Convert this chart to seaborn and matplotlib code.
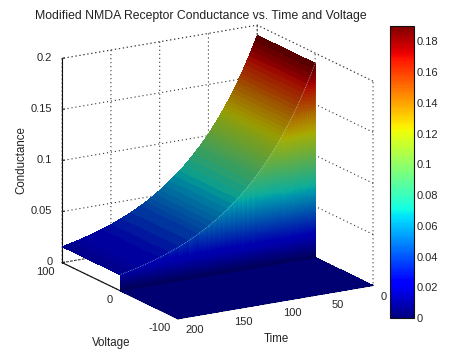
import numpy as np
import matplotlib
matplotlib.use('Agg')
import matplotlib.pyplot as plt
from matplotlib.colors import ListedColormap
import seaborn as sns

# values (conductance along the ridge, denser where it is steep)
time_vals = [0, 2, 4, 6, 8, 10, 12, 14, 16, 18, 20, 22, 24, 26, 28, 30, 32, 34, 36, 38, 40,
             42, 44, 46, 48, 50, 52, 54, 56, 58, 60, 65, 70, 75, 80, 85, 90, 95, 100,
             105, 110, 115, 120, 130, 140, 150, 160, 170, 180, 190, 200]
conductance = [0.1900, 0.1853, 0.1807, 0.1763, 0.1719, 0.1677, 0.1635, 0.1595, 0.1556, 0.1517, 0.1480,
               0.1443, 0.1408, 0.1373, 0.1339, 0.1306, 0.1274, 0.1242, 0.1211, 0.1181, 0.1152,
               0.1124, 0.1096, 0.1069, 0.1043, 0.1017, 0.0992, 0.0967, 0.0944, 0.0920, 0.0898,
               0.0844, 0.0792, 0.0744, 0.0699, 0.0657, 0.0617, 0.0580, 0.0544,
               0.0511, 0.0480, 0.0451, 0.0424, 0.0374, 0.0330, 0.0291, 0.0257, 0.0227, 0.0200, 0.0177, 0.0156]
voltage_off = [-100, 0]
voltage_on = [0, 100]
voltage_ticks = [-100, 0, 100]
voltage_labels = ['-100', '0', '100']
time_ticks = [0, 50, 100, 150, 200]
time_labels = ['0', '50', '100', '150', '200']
cond_ticks = [0, 0.05, 0.1, 0.15, 0.2]
cond_labels = ['0', '0.05', '0.1', '0.15', '0.2']
cbar_ticks = [0, 0.02, 0.04, 0.06, 0.08, 0.1, 0.12, 0.14, 0.16, 0.18]
cbar_labels = ['0', '0.02', '0.04', '0.06', '0.08', '0.1', '0.12', '0.14', '0.16', '0.18']

sns.set_style('white')
plt.rcParams['font.family'] = ['Liberation Sans', 'DejaVu Sans']
plt.rcParams['font.size'] = 8
plt.rcParams['text.color'] = '#222222'

W, H = 477, 358
fig = plt.figure(figsize=(W / 100, H / 100), dpi=100)
size = 340
cx, cy = 213, 176.5
ax = fig.add_axes([(cx - size / 2) / W, 1 - (cy + size / 2) / H, size / W, size / H],
                  projection='3d', proj_type='ortho', computed_zorder=False)
ax.patch.set_alpha(0)
ax.view_init(elev=16.7, azim=149.3)
ax.set_box_aspect((1, 1, 0.94), zoom=1.10)

jet = matplotlib.colormaps['jet']


def dimmed(factor):
    # the lit surface is darker than the colorbar
    rgb = jet(np.linspace(0, 1, 256))[:, :3] * factor
    return ListedColormap(rgb)


t = np.array(time_vals, dtype=float)
g = np.array(conductance)
vmax = 0.19
opts = dict(vmin=0, vmax=vmax, rstride=1, cstride=1, linewidth=0, antialiased=False, shade=False)

# floor for negative voltage
Vf, Tf = np.meshgrid(voltage_off, t)
ax.plot_surface(Vf, Tf, np.zeros_like(Vf, dtype=float), zorder=2, cmap=dimmed(0.9), **opts)

# top of the surface
Vt, Tt = np.meshgrid(voltage_on, t)
ax.plot_surface(Vt, Tt, np.column_stack([g, g]), zorder=3, cmap=dimmed(0.62), **opts)

# step at voltage 0, split in height so the colours follow z
frac = np.linspace(0, 1, 61)
Zw = np.outer(g, frac)
Tw = np.tile(t[:, None], (1, frac.size))
ax.plot_surface(np.zeros_like(Zw), Tw, Zw, zorder=4, cmap=dimmed(0.68), **opts)
ax.plot(np.zeros_like(t), t, g, color='#9fe0e0', lw=0.5, ls=':', zorder=5)

ax.set_xlim(-100, 100, view_margin=0)
ax.set_ylim(0, 200, view_margin=0)
ax.set_zlim(0, 0.2, view_margin=0)
ax.set_xticks(voltage_ticks)
ax.set_xticklabels(voltage_labels, ha='right', va='center')
ax.set_yticks(time_ticks)
ax.set_yticklabels(time_labels, ha='left', va='bottom')
ax.set_zticks(cond_ticks)
ax.set_zticklabels(cond_labels, ha='right', va='center')
ax.zaxis.set_ticks_position('upper')

dots = (0, (1, 2.6))
for axis in (ax.xaxis, ax.yaxis, ax.zaxis):
    axis.pane.set_facecolor((1, 1, 1, 0))
    axis.pane.set_edgecolor('#333333')
    axis.pane.set_linestyle(dots)
    axis.pane.set_linewidth(0.8)
    axis.line.set_color('#111111')
    axis.line.set_linewidth(0.8)
    axis._axinfo['grid'].update(color='#333333', linestyle=dots, linewidth=0.8)
    axis._axinfo['tick'].update(inward_factor=0.0, outward_factor=0.15)
ax.tick_params(axis='x', labelsize=8, pad=-3)
ax.tick_params(axis='y', labelsize=8, pad=0)
ax.tick_params(axis='z', labelsize=8, pad=-4)

fig.text(201 / W, 1 - 16 / H, 'Modified NMDA Receptor Conductance vs. Time and Voltage', ha='center', va='center', fontsize=8.8)
fig.text(111 / W, 1 - 343 / H, 'Voltage', ha='center', va='center', fontsize=8.3)
fig.text(276 / W, 1 - 339 / H, 'Time', ha='center', va='center', fontsize=8.3)
fig.text(21 / W, 1 - 160 / H, 'Conductance', ha='center', va='center', rotation=90, fontsize=8.3)

cax = fig.add_axes([390 / W, 1 - 318 / H, 23.5 / W, 292 / H])
sm = plt.cm.ScalarMappable(norm=plt.Normalize(0, vmax), cmap=jet)
cb = fig.colorbar(sm, cax=cax)
cb.set_ticks(cbar_ticks)
cb.set_ticklabels(cbar_labels)
cb.outline.set_edgecolor('#111111')
cb.outline.set_linewidth(0.8)
cax.tick_params(axis='y', which='both', direction='in', left=True, right=True, length=3, width=0.7, labelsize=8, pad=2, color='#111111')

fig.savefig('out.png', dpi=100)
